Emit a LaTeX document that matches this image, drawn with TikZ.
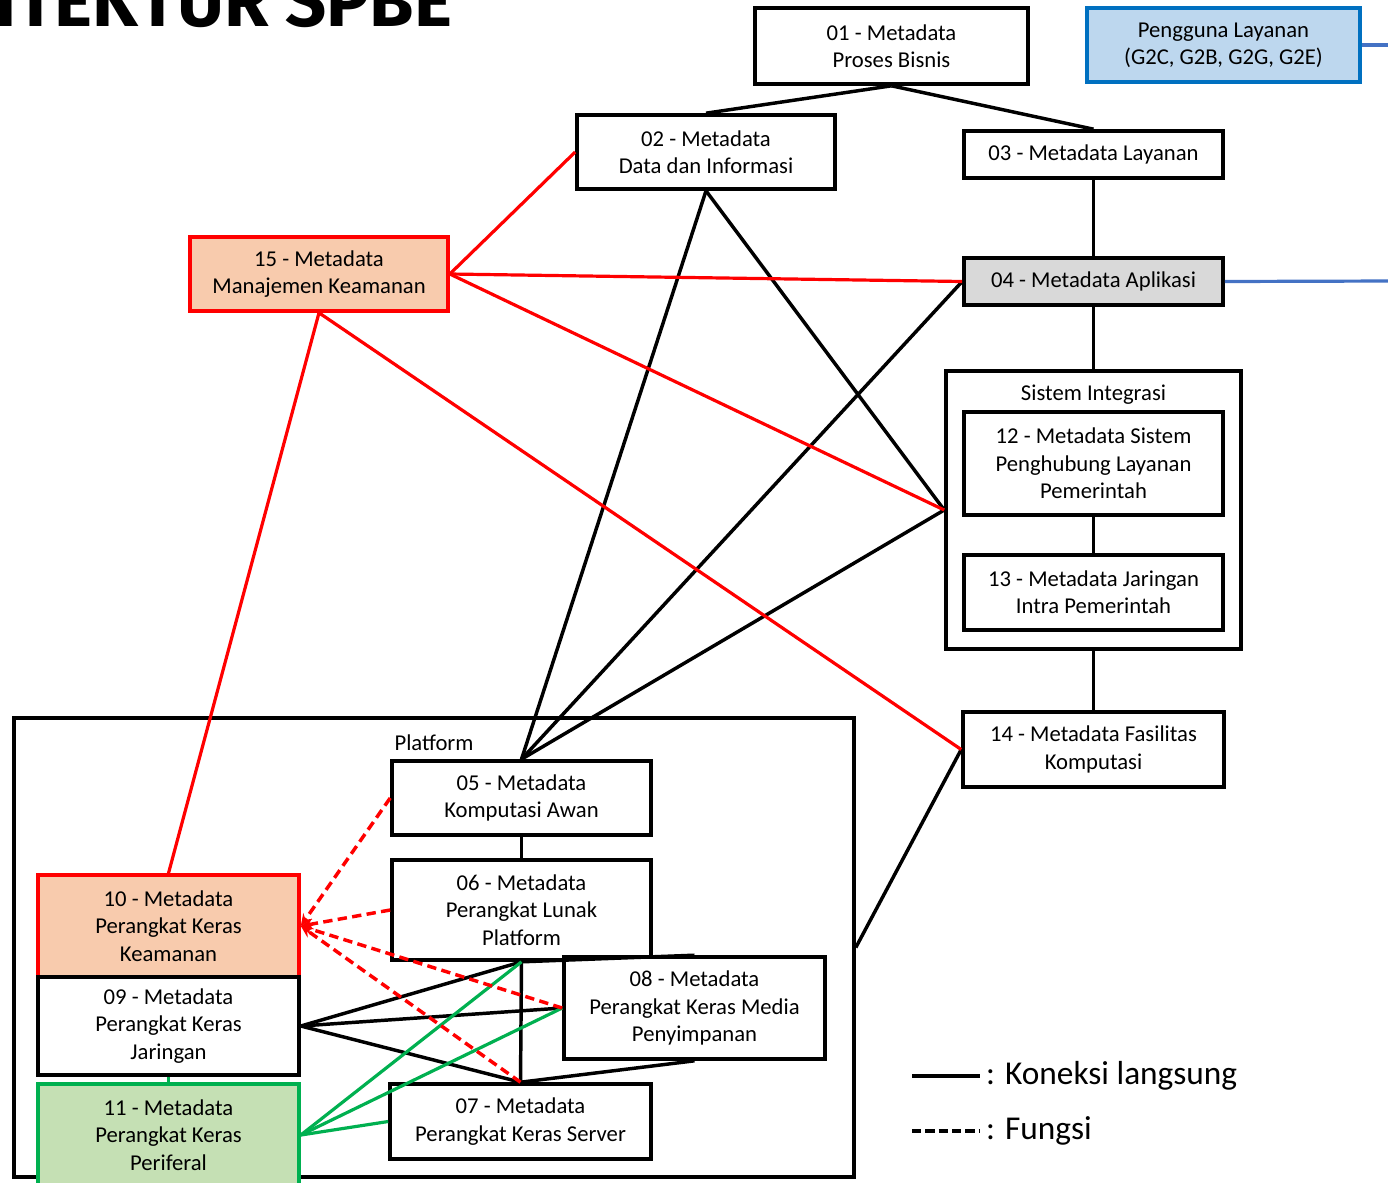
\documentclass[tikz,border=0pt]{standalone}
\usepackage{fontspec}
\setmainfont{Carlito}
\newfontfamily\titlefont{Fira Sans}
\usetikzlibrary{arrows.meta}

\definecolor{salem}{HTML}{F8CBAD}
\definecolor{hijau}{HTML}{C5E0B4}
\definecolor{hijaugaris}{HTML}{00B050}
\definecolor{biru}{HTML}{BDD7EE}
\definecolor{birutepi}{HTML}{0070C0}
\definecolor{birugaris}{HTML}{4472C4}
\definecolor{abu}{HTML}{D9D9D9}

\begin{document}
\begin{tikzpicture}[x=0.75pt,y=-0.75pt,
  box/.style={draw, line width=2.7pt, fill=white, align=center, inner sep=0pt,
    font=\fontsize{17}{20.5}\selectfont},
  wadah/.style={draw, line width=2.7pt, inner sep=0pt},
  link/.style={line width=2.6pt},
  redlink/.style={line width=2.4pt, red},
  greenlink/.style={line width=2.4pt, hijaugaris},
  bluelink/.style={line width=2.4pt, birugaris},
  fungsi/.style={line width=2.6pt, red, dash pattern=on 7pt off 4pt, -{Stealth[length=9pt,width=8pt]}}]

\useasboundingbox (0,0) rectangle (1388,1182);
\clip (0,0) rectangle (1388,1182);

% judul, terpotong di atas
\node[anchor=base east, font=\titlefont\bfseries\fontsize{54}{54}\selectfont] (judul) at (457,26) {ARSITEKTUR SPBE};

% wadah
\node[wadah, minimum width=630pt, minimum height=344.25pt] (platform) at (434,947.5) {};
\node[font=\fontsize{17}{20.5}\selectfont] (lplatform) at (434,743) {Platform};
\node[wadah, minimum width=221.25pt, minimum height=208.5pt] (sistem) at (1093.5,510) {};
\node[font=\fontsize{17}{20.5}\selectfont] (lsistem) at (1093.5,395) {Sistem Integrasi};

% kotak metadata
\node[box, minimum width=204.75pt, minimum height=57pt] (m01) at (891.5,46) {01 - Metadata\\Proses Bisnis};
\node[box, fill=biru, draw=birutepi, minimum width=204.75pt, minimum height=55.5pt] (pengguna) at (1223.5,45) {Pengguna Layanan\\(G2C, G2B, G2G, G2E)};
\node[box, minimum width=193.5pt, minimum height=55.5pt] (m02) at (706,152) {02 - Metadata\\Data dan Informasi};
\node[box, minimum width=194.25pt, minimum height=35.25pt] (m03) at (1093.5,154.5) {03 - Metadata Layanan};
\node[box, fill=salem, draw=red, minimum width=193.5pt, minimum height=55.5pt] (m15) at (319,274) {15 - Metadata\\Manajemen Keamanan};
\node[box, fill=abu, minimum width=194.25pt, minimum height=35.25pt] (m04) at (1093.5,281.5) {04 - Metadata Aplikasi};
\node[box, minimum width=194.25pt, minimum height=77.25pt] (m12) at (1093.5,463.5) {12 - Metadata Sistem\\Penghubung Layanan\\Pemerintah};
\node[box, minimum width=194.25pt, minimum height=56.25pt] (m13) at (1093.5,592.5) {13 - Metadata Jaringan\\Intra Pemerintah};
\node[box, minimum width=195.75pt, minimum height=56.25pt] (m14) at (1093.5,749.5) {14 - Metadata Fasilitas\\Komputasi};
\node[box, minimum width=194.25pt, minimum height=55.5pt] (m05) at (521.5,798) {05 - Metadata\\Komputasi Awan};
\node[box, minimum width=194.25pt, minimum height=75pt] (m06) at (521.5,910) {06 - Metadata\\Perangkat Lunak\\Platform};
\node[box, minimum width=195.75pt, minimum height=76.5pt] (m08) at (694.5,1008) {08 - Metadata\\Perangkat Keras Media\\Penyimpanan};
\node[box, fill=salem, draw=red, minimum width=195.75pt, minimum height=76.5pt] (m10) at (168.5,926) {10 - Metadata\\Perangkat Keras\\Keamanan};
\node[box, minimum width=195.75pt, minimum height=73.5pt] (m09) at (168.5,1026) {09 - Metadata\\Perangkat Keras\\Jaringan};
\node[box, fill=hijau, draw=hijaugaris, minimum width=195.75pt, minimum height=76.5pt] (m11) at (168.5,1135) {11 - Metadata\\Perangkat Keras\\Periferal};
\node[box, minimum width=195.75pt, minimum height=56.25pt] (m07) at (520.5,1121.5) {07 - Metadata\\Perangkat Keras Server};

% koneksi langsung
\draw[link] (m01.south) -- (m02.north);
\draw[link] (m01.south) -- (m03.north);
\draw[link] (m03.south) -- (m04.north);
\draw[link] (m04.south) -- (sistem.north);
\draw[link] (m12.south) -- (m13.north);
\draw[link] (sistem.south) -- (m14.north);
\draw[link] (m02.south) -- (m05.north);
\draw[link] (m02.south) -- (sistem.west);
\draw[link] (m04.west) -- (m05.north);
\draw[link] (sistem.west) -- (m05.north);
\draw[link] (m14.west) -- (platform.east);
\draw[link] (m05.south) -- (m06.north);
\draw[link] (m06.south) -- (m07.north);
\draw[link] (m06.south) -- (m08.north);
\draw[link] (m09.east) -- (m06.south);
\draw[link] (m09.east) -- (m08.west);
\draw[link] (m09.east) -- (m07.north);
\draw[link] (m08.south) -- (m07.north);

% keamanan
\draw[redlink] (m15.east) -- (m02.west);
\draw[redlink] (m15.east) -- (m04.west);
\draw[redlink] (m15.east) -- (sistem.west);
\draw[redlink] (m15.south) -- (m14.west);
\draw[redlink] (m15.south) -- (m10.north);

% periferal
\draw[greenlink] (m09.south) -- (m11.north);
\draw[greenlink] (m11.east) -- (m06.south);
\draw[greenlink] (m11.east) -- (m08.west);
\draw[greenlink] (m11.east) -- (m07.west);

% fungsi
\draw[fungsi] (m05.west) -- (m10.east);
\draw[fungsi] (m06.west) -- (m10.east);
\draw[fungsi] (m08.west) -- (m10.east);
\draw[fungsi] (m07.north) -- (m10.east);

% pengguna layanan
\coordinate (ujung1) at (1392,45);
\coordinate (ujung2) at (1392,281);
\draw[bluelink] (pengguna.east) -- (ujung1);
\draw[bluelink] (m04.east) -- (ujung2);

% keterangan
\coordinate (k1) at (912,1076);
\coordinate (k2) at (980,1076);
\coordinate (k3) at (912,1131);
\coordinate (k4) at (980,1131);
\draw[link] (k1) -- (k2) node[right, font=\fontsize{25}{29}\selectfont] (lk) {: Koneksi langsung};
\draw[line width=2.6pt, dash pattern=on 7pt off 3pt] (k3) -- (k4) node[right, font=\fontsize{25}{29}\selectfont] (lf) {: Fungsi};

\end{tikzpicture}
\end{document}
